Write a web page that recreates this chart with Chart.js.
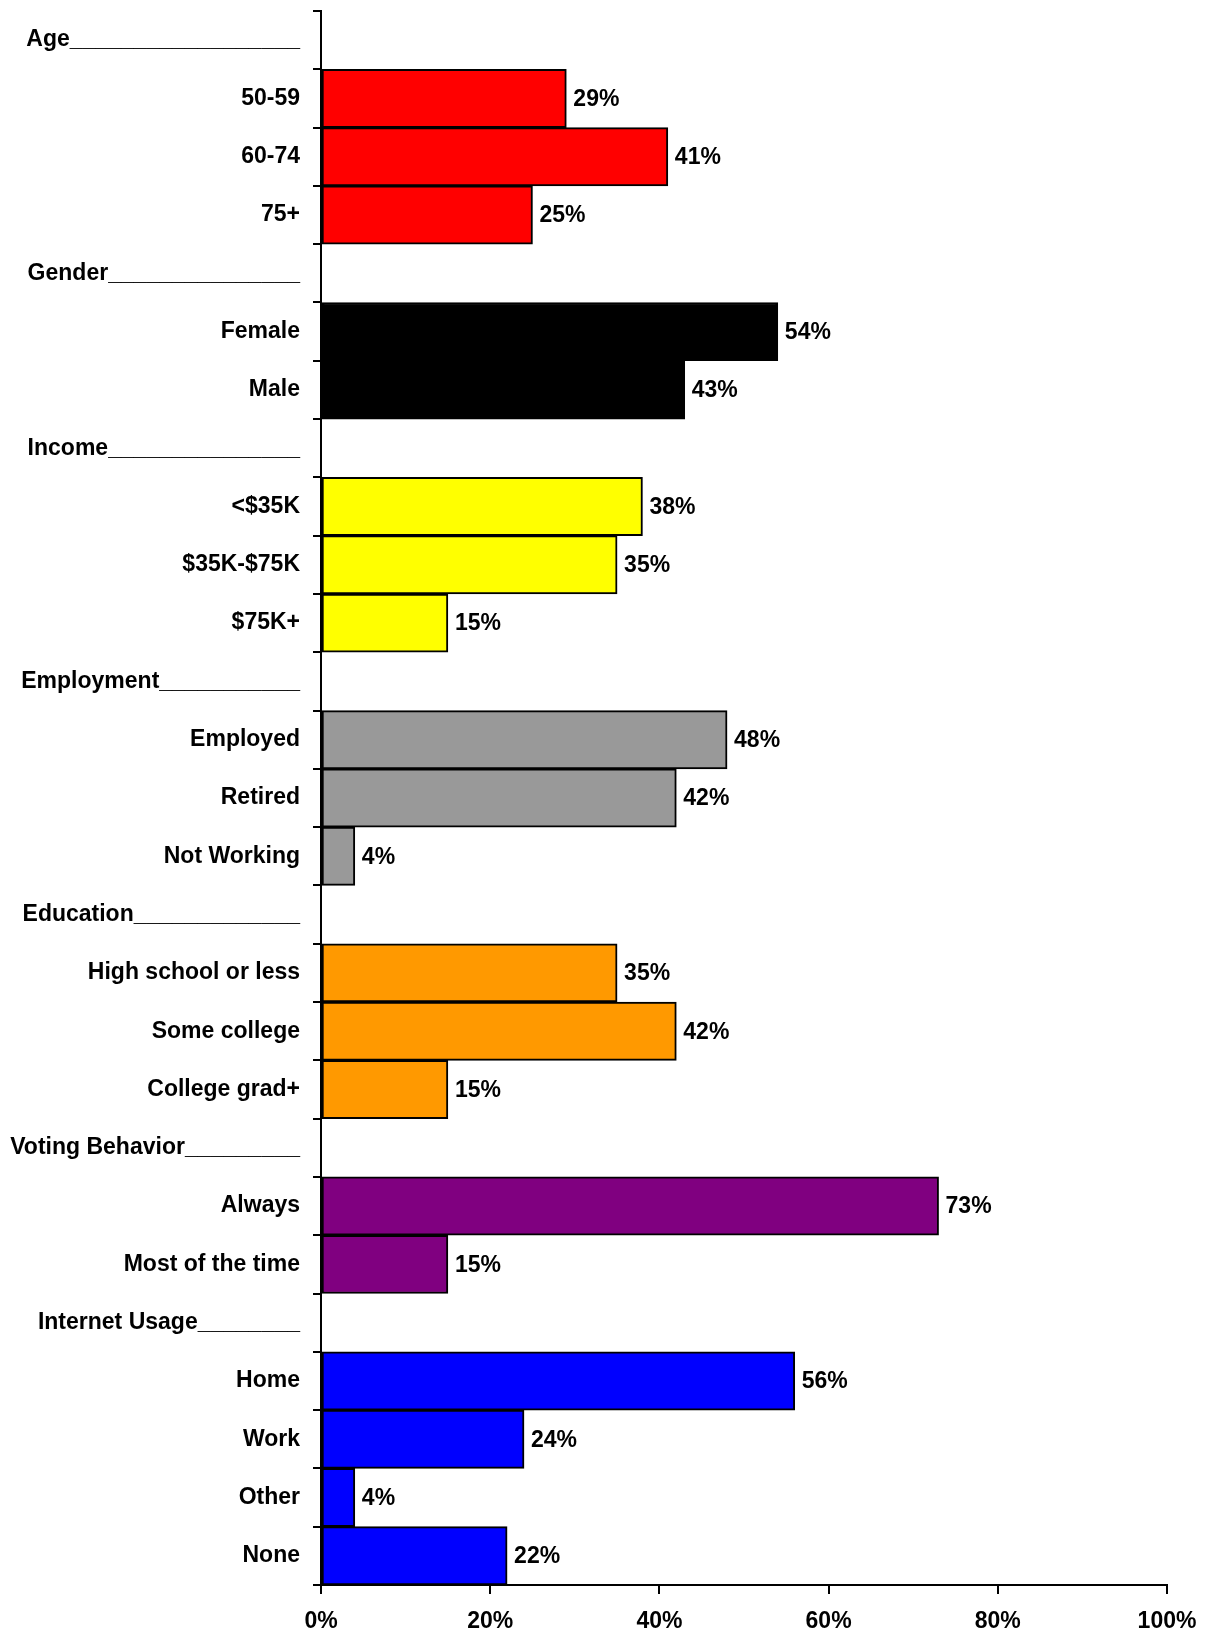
<!DOCTYPE html>
<html>
<head>
<meta charset="utf-8">
<script src="https://cdn.jsdelivr.net/npm/chart.js@4.4.1/dist/chart.umd.min.js"></script>
<style>
  body { margin: 0; background: #fff; }
</style>
</head>
<body>
<canvas id="profile" width="1212" height="1635"></canvas>
<script>
// header rows carry no value (null), they only hold the group title
var categories = [
    'Age__________________',
    '50-59', '60-74', '75+',
    'Gender_______________',
    'Female', 'Male',
    'Income_______________',
    '<$35K', '$35K-$75K', '$75K+',
    'Employment___________',
    'Employed', 'Retired', 'Not Working',
    'Education_____________',
    'High school or less', 'Some college', 'College grad+',
    'Voting Behavior_________',
    'Always', 'Most of the time',
    'Internet Usage________',
    'Home', 'Work', 'Other', 'None'
];
var percents = [
    null, 29, 41, 25,
    null, 54, 43,
    null, 38, 35, 15,
    null, 48, 42, 4,
    null, 35, 42, 15,
    null, 73, 15,
    null, 56, 24, 4, 22
];
var xTicks = [0, 20, 40, 60, 80, 100];

var groupColors = ['#ff0000', '#000000', '#ffff00', '#999999', '#ff9900', '#800080', '#0000ff'];

// one colour per bar, switching at every header row
var barColors = [];
var g = -1;
for (var i = 0; i < percents.length; i++) {
    if (percents[i] === null) g++;
    barColors.push(groupColors[g]);
}

var font = 'bold 23px "Liberation Sans", Arial, sans-serif';

var valueLabels = {
    id: 'valueLabels',
    afterDatasetsDraw: function(chart) {
        var ctx = chart.ctx;
        var meta = chart.getDatasetMeta(0);
        ctx.save();
        ctx.font = font;
        ctx.fillStyle = '#000';
        ctx.textAlign = 'left';
        ctx.textBaseline = 'middle';
        meta.data.forEach(function(bar, idx) {
            var v = percents[idx];
            if (v === null) return;
            ctx.fillText(v + '%', bar.x + 7, bar.y + 1);
        });
        ctx.restore();
    }
};

Chart.defaults.font.family = '"Liberation Sans", Arial, sans-serif';
Chart.defaults.font.size = 23;
Chart.defaults.font.weight = 'bold';
Chart.defaults.color = '#000';

var chart = new Chart(document.getElementById('profile'), {
    type: 'bar',
    data: {
        labels: categories,
        datasets: [{
            data: percents,
            backgroundColor: barColors,
            borderColor: '#000',
            borderWidth: 2,
            borderSkipped: false,
            barPercentage: 1,
            categoryPercentage: 1
        }]
    },
    options: {
        indexAxis: 'y',
        responsive: false,
        animation: false,
        layout: { padding: { left: 0, top: 11, right: 45, bottom: 0 } },
        plugins: {
            legend: { display: false },
            tooltip: { enabled: false }
        },
        scales: {
            x: {
                type: 'linear',
                min: 0,
                max: 100,
                afterBuildTicks: function(scale) {
                    scale.ticks = xTicks.map(function(v) { return { value: v }; });
                },
                afterFit: function(scale) { scale.height = 50; },
                ticks: {
                    padding: 14,
                    maxRotation: 0,
                    callback: function(v) { return v + '%'; }
                },
                grid: {
                    drawOnChartArea: false,
                    tickLength: 9,
                    color: '#000',
                    lineWidth: 2
                },
                border: { color: '#000', width: 2 }
            },
            y: {
                type: 'category',
                afterFit: function(scale) {
                    scale.width = 321;
                    scale.paddingTop = 0;
                    scale.paddingBottom = 0;
                },
                ticks: {
                    padding: 13,
                    autoSkip: false
                },
                grid: {
                    offset: true,
                    drawOnChartArea: false,
                    tickLength: 8,
                    color: '#000',
                    lineWidth: 2
                },
                border: { color: '#000', width: 2 }
            }
        }
    },
    plugins: [valueLabels]
});
</script>
</body>
</html>
